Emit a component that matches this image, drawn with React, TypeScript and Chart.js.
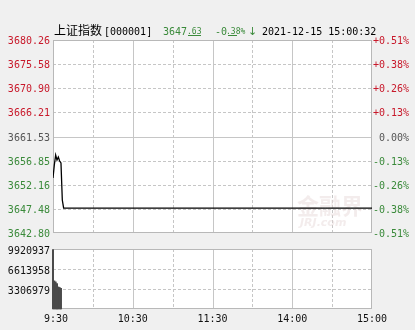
import { useEffect, useRef } from "react";
import { Chart, registerables } from "chart.js";

Chart.register(...registerables);

// ---------- data ----------
const PREV_CLOSE = 3661.53;
const priceTicks = [3642.8, 3647.48, 3652.16, 3656.85, 3661.53, 3666.21, 3670.9, 3675.58, 3680.26];
const pctLabels = ["-0.51%", "-0.38%", "-0.26%", "-0.13%", " 0.00%", "+0.13%", "+0.26%", "+0.38%", "+0.51%"];
const priceMinutes = [0, 1, 2, 3, 4, 5, 6, 7, 8, 240];
const prices = [3653.47, 3656.0, 3657.94, 3656.97, 3657.55, 3656.77, 3656.39, 3649.2, 3647.63, 3647.63];
const volumeMinutes = [0, 1, 2, 3, 4, 5, 6];
const volumes = [9810000, 4650000, 4480000, 4200000, 3650000, 3560000, 3420000];
const volumeTicks = [0, 3306979, 6613958, 9920937];
const timeTickMinutes = [0, 60, 120, 180, 240];
const timeTickLabels = [" 9:30", "10:30", "11:30", "14:00", "15:00"];
const gridMinutes = [30, 60, 90, 120, 150, 180, 210];
const solidGridMinutes = [60, 120, 180];

const titleName = "上证指数";
const titleCode = "[000001]";
const lastPriceInt = "3647";
const lastPriceDec = ".63";
const changeInt = "-0";
const changeDec = ".38%";
const arrow = "↓";
const timestamp = "2021-12-15 15:00:32";

// ---------- styles ----------
const MONO = '10px "DejaVu Sans Mono"';
const RED = "#c8182a";
const GREEN = "#3a8a3a";
const GRAY = "#555555";
const GRID = "#c6c6c6";
const BORDER = "#b8b8b8";

const colorFor = (v: number) =>
  Math.abs(v - PREV_CLOSE) < 0.005 ? GRAY : v > PREV_CLOSE ? RED : GREEN;

const panelPlugin = {
  id: "panel",
  beforeDatasetsDraw(chart: any, _args: any, opts: any) {
    const { ctx, chartArea: a } = chart;
    const xs = chart.scales.x;
    const ys = chart.scales[opts.yId];
    ctx.save();
    ctx.fillStyle = "#ffffff";
    ctx.fillRect(a.left, a.top, a.right - a.left, a.bottom - a.top);
    ctx.lineWidth = 1;
    const seg = (x1: number, y1: number, x2: number, y2: number, solid: boolean) => {
      ctx.beginPath();
      ctx.setLineDash(solid ? [] : [3, 2]);
      ctx.strokeStyle = GRID;
      ctx.moveTo(x1, y1);
      ctx.lineTo(x2, y2);
      ctx.stroke();
    };
    gridMinutes.forEach((m) => {
      const x = Math.round(xs.getPixelForValue(m)) + 0.5;
      seg(x, a.top, x, a.bottom, solidGridMinutes.includes(m));
    });
    (opts.hValues as number[]).forEach((v) => {
      const y = Math.round(ys.getPixelForValue(v)) + 0.5;
      seg(a.left, y, a.right, y, (opts.hSolid as number[]).includes(v));
    });
    if (opts.watermark) {
      ctx.setLineDash([]);
      ctx.fillStyle = "rgba(228,212,212,0.45)";
      ctx.font = 'bold 22px "Noto Sans CJK SC"';
      ctx.textBaseline = "alphabetic";
      ctx.fillText("金融界", 297, 214);
      ctx.font = 'italic bold 11px "DejaVu Sans"';
      ctx.fillText("JRJ.com", 300, 226);
    }
    ctx.setLineDash([]);
    ctx.strokeStyle = BORDER;
    ctx.strokeRect(Math.round(a.left) + 0.5, Math.round(a.top) + 0.5, Math.round(a.right - a.left) - 1, Math.round(a.bottom - a.top) - 1);
    ctx.restore();
  },
};

const titlePlugin = {
  id: "titleRow",
  afterDraw(chart: any) {
    const ctx = chart.ctx;
    ctx.save();
    ctx.textBaseline = "alphabetic";
    const base = 35;
    ctx.fillStyle = "#000";
    ctx.font = '12px "Noto Sans CJK SC"';
    ctx.fillText(titleName, 54, base);
    ctx.font = MONO;
    ctx.fillText(titleCode, 104, base);
    ctx.fillStyle = GREEN;
    ctx.fillText(lastPriceInt, 163, base);
    ctx.font = '8px "DejaVu Sans Mono"';
    ctx.fillText(lastPriceDec, 187, base - 1);
    ctx.fillRect(188, base, 13, 1);
    ctx.font = MONO;
    ctx.fillText(changeInt, 215, base);
    ctx.font = '8px "DejaVu Sans Mono"';
    ctx.fillText(changeDec, 226, base - 1);
    ctx.fillRect(228, base, 9, 1);
    ctx.font = '11px "DejaVu Sans"';
    ctx.fillText(arrow, 248, base);
    ctx.fillStyle = "#000";
    ctx.font = MONO;
    ctx.fillText(timestamp, 262, base);
    ctx.restore();
  },
};

export default function App() {
  const priceRef = useRef<HTMLCanvasElement>(null);
  const volRef = useRef<HTMLCanvasElement>(null);

  useEffect(() => {
    const yMin = priceTicks[0];
    const yMax = priceTicks[priceTicks.length - 1];
    const priceChart = new Chart(priceRef.current as HTMLCanvasElement, {
      type: "line",
      data: {
        datasets: [
          {
            data: priceMinutes.map((m, i) => ({ x: m, y: prices[i] })),
            borderColor: "#000000",
            borderWidth: 1.3,
            pointRadius: 0,
            tension: 0,
            fill: false,
          },
        ],
      },
      options: {
        animation: false,
        responsive: false,
        maintainAspectRatio: false,
        layout: { padding: { top: 40, bottom: 12, left: 0, right: 0 } },
        plugins: {
          legend: { display: false },
          tooltip: { enabled: false },
          panel: { yId: "y", hValues: priceTicks.slice(1, -1), hSolid: [PREV_CLOSE], watermark: true },
        } as any,
        scales: {
          x: { type: "linear", min: 0, max: 240, display: false },
          y: {
            position: "left",
            min: yMin,
            max: yMax,
            afterBuildTicks: (s: any) => {
              s.ticks = priceTicks.map((v) => ({ value: v }));
            },
            afterFit: (s: any) => {
              s.width = 53;
            },
            grid: { display: false, drawTicks: false },
            border: { display: false },
            ticks: {
              padding: 3,
              labelOffset: 1.5,
              font: { family: "DejaVu Sans Mono", size: 10 },
              color: (c: any) => colorFor(c.tick.value),
              callback: (v: any) => Number(v).toFixed(2),
            },
          },
          y2: {
            position: "right",
            min: yMin,
            max: yMax,
            afterBuildTicks: (s: any) => {
              s.ticks = priceTicks.map((v) => ({ value: v }));
            },
            afterFit: (s: any) => {
              s.width = 43;
            },
            grid: { display: false, drawTicks: false },
            border: { display: false },
            ticks: {
              padding: 1,
              labelOffset: 1.5,
              font: { family: "DejaVu Sans Mono", size: 10 },
              color: (c: any) => colorFor(c.tick.value),
              callback: (_v: any, i: number) => pctLabels[i],
            },
          },
        },
      } as any,
      plugins: [panelPlugin, titlePlugin],
    });

    const volChart = new Chart(volRef.current as HTMLCanvasElement, {
      type: "bar",
      data: {
        datasets: [
          {
            data: volumeMinutes.map((m, i) => ({ x: m, y: volumes[i] })),
            backgroundColor: "#4a4a4a",
            barPercentage: 1,
            categoryPercentage: 1,
            clip: false,
          },
        ],
      },
      options: {
        animation: false,
        responsive: false,
        maintainAspectRatio: false,
        layout: { padding: { top: 7, bottom: 0, left: 0, right: 43 } },
        plugins: {
          legend: { display: false },
          tooltip: { enabled: false },
          panel: { yId: "y", hValues: volumeTicks.slice(1, -1), hSolid: [] },
        } as any,
        scales: {
          x: {
            type: "linear",
            min: 0,
            max: 240,
            offset: false,
            afterBuildTicks: (s: any) => {
              s.ticks = timeTickMinutes.map((v) => ({ value: v }));
            },
            afterFit: (s: any) => {
              s.height = 21;
            },
            grid: { display: false, drawTicks: false, offset: false },
            border: { display: false },
            ticks: {
              padding: 4,
              autoSkip: false,
              maxRotation: 0,
              font: { family: "DejaVu Sans Mono", size: 10 },
              color: "#111111",
              callback: (v: any) => timeTickLabels[timeTickMinutes.indexOf(Number(v))],
            },
          },
          y: {
            position: "left",
            min: 0,
            max: volumeTicks[volumeTicks.length - 1],
            afterBuildTicks: (s: any) => {
              s.ticks = volumeTicks.map((v) => ({ value: v }));
            },
            afterFit: (s: any) => {
              s.width = 53;
            },
            grid: { display: false, drawTicks: false },
            border: { display: false },
            ticks: {
              padding: 3,
              labelOffset: 2,
              font: { family: "DejaVu Sans Mono", size: 10 },
              color: "#111111",
              callback: (v: any) => (Number(v) === 0 ? "" : String(v)),
            },
          },
        },
      } as any,
      plugins: [panelPlugin],
    });

    return () => {
      priceChart.destroy();
      volChart.destroy();
    };
  }, []);

  return (
    <div
      style={{
        position: "fixed",
        left: 0,
        top: 0,
        width: 415,
        height: 330,
        background: "#f0f0f0",
        overflow: "hidden",
      }}
    >
      <canvas
        ref={priceRef}
        width={415}
        height={245}
        style={{ position: "absolute", left: 0, top: 0, width: 415, height: 245 }}
      />
      <canvas
        ref={volRef}
        width={415}
        height={90}
        style={{ position: "absolute", left: 0, top: 240, width: 415, height: 90 }}
      />
    </div>
  );
}
